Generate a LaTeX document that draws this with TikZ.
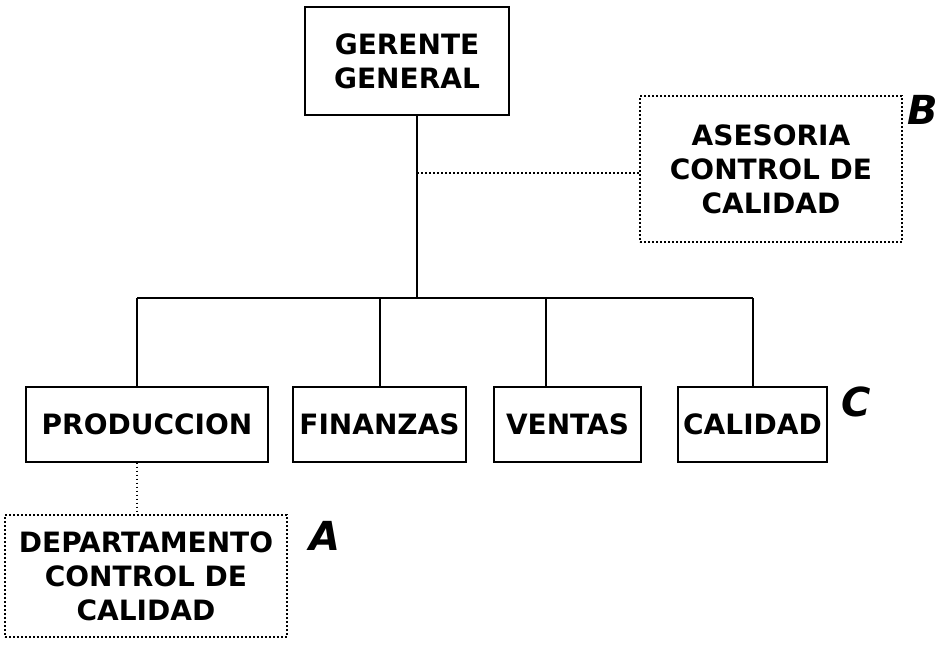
\documentclass[tikz,border=0pt]{standalone}
\usepackage{fontspec}
\setmainfont{DejaVu Sans}
\usepackage{tikz}

\tikzset{
  unit/.style={draw,line width=1.3pt,inner sep=0pt,align=center,
    font=\bfseries\fontsize{28}{34}\selectfont},
  staff/.style={unit,dash pattern=on 1.6pt off 2.4pt,line width=1.6pt},
  tag/.style={font=\bfseries\itshape\fontsize{40}{40}\selectfont},
  link/.style={line width=1.3pt},
  dotlink/.style={line width=1.6pt,dash pattern=on 1.6pt off 2.4pt}
}

\begin{document}
\begin{tikzpicture}[x=1pt,y=-1pt]
  \useasboundingbox (0,0) rectangle (943,650);

  % Top of the chart
  \node[unit,minimum width=204pt,minimum height=108pt] (gerente) at (407,61) {GERENTE\\GENERAL};
  \node[staff,minimum width=262pt,minimum height=146pt] (asesoria) at (771,169) {ASESORIA\\CONTROL DE\\CALIDAD};

  % Departments
  \node[unit,minimum width=242pt,minimum height=75pt] (produccion) at (147,424.5) {PRODUCCION};
  \node[unit,minimum width=173pt,minimum height=75pt] (finanzas) at (379.5,424.5) {FINANZAS};
  \node[unit,minimum width=147pt,minimum height=75pt] (ventas) at (567.5,424.5) {VENTAS};
  \node[unit,minimum width=149pt,minimum height=75pt] (calidad) at (752.5,424.5) {CALIDAD};

  % Quality department under production
  \node[staff,minimum width=282pt,minimum height=122pt] (depto) at (146,576) {DEPARTAMENTO\\CONTROL DE\\CALIDAD};

  % Letters
  \node[tag] (tagA) at (325,536) {A};
  \node[tag] (tagB) at (923,110) {B};
  \node[tag] (tagC) at (856,402) {C};

  % Lines
  \coordinate (tap) at (417,173);
  \coordinate (bus) at (417,298);
  \coordinate (b1) at (137,298);
  \coordinate (b2) at (380,298);
  \coordinate (b3) at (546,298);
  \coordinate (b4) at (753,298);
  \draw[link] (gerente.south -| bus) -- (bus);
  \draw[link] (b1) -- (b4);
  \draw[link] (b1) -- (b1 |- produccion.north);
  \draw[link] (b2) -- (b2 |- finanzas.north);
  \draw[link] (b3) -- (b3 |- ventas.north);
  \draw[link] (b4) -- (b4 |- calidad.north);
  \draw[dotlink] (tap) -- (asesoria.west |- tap);
  \draw[dotlink] (b1 |- produccion.south) -- (b1 |- depto.north);
\end{tikzpicture}
\end{document}
